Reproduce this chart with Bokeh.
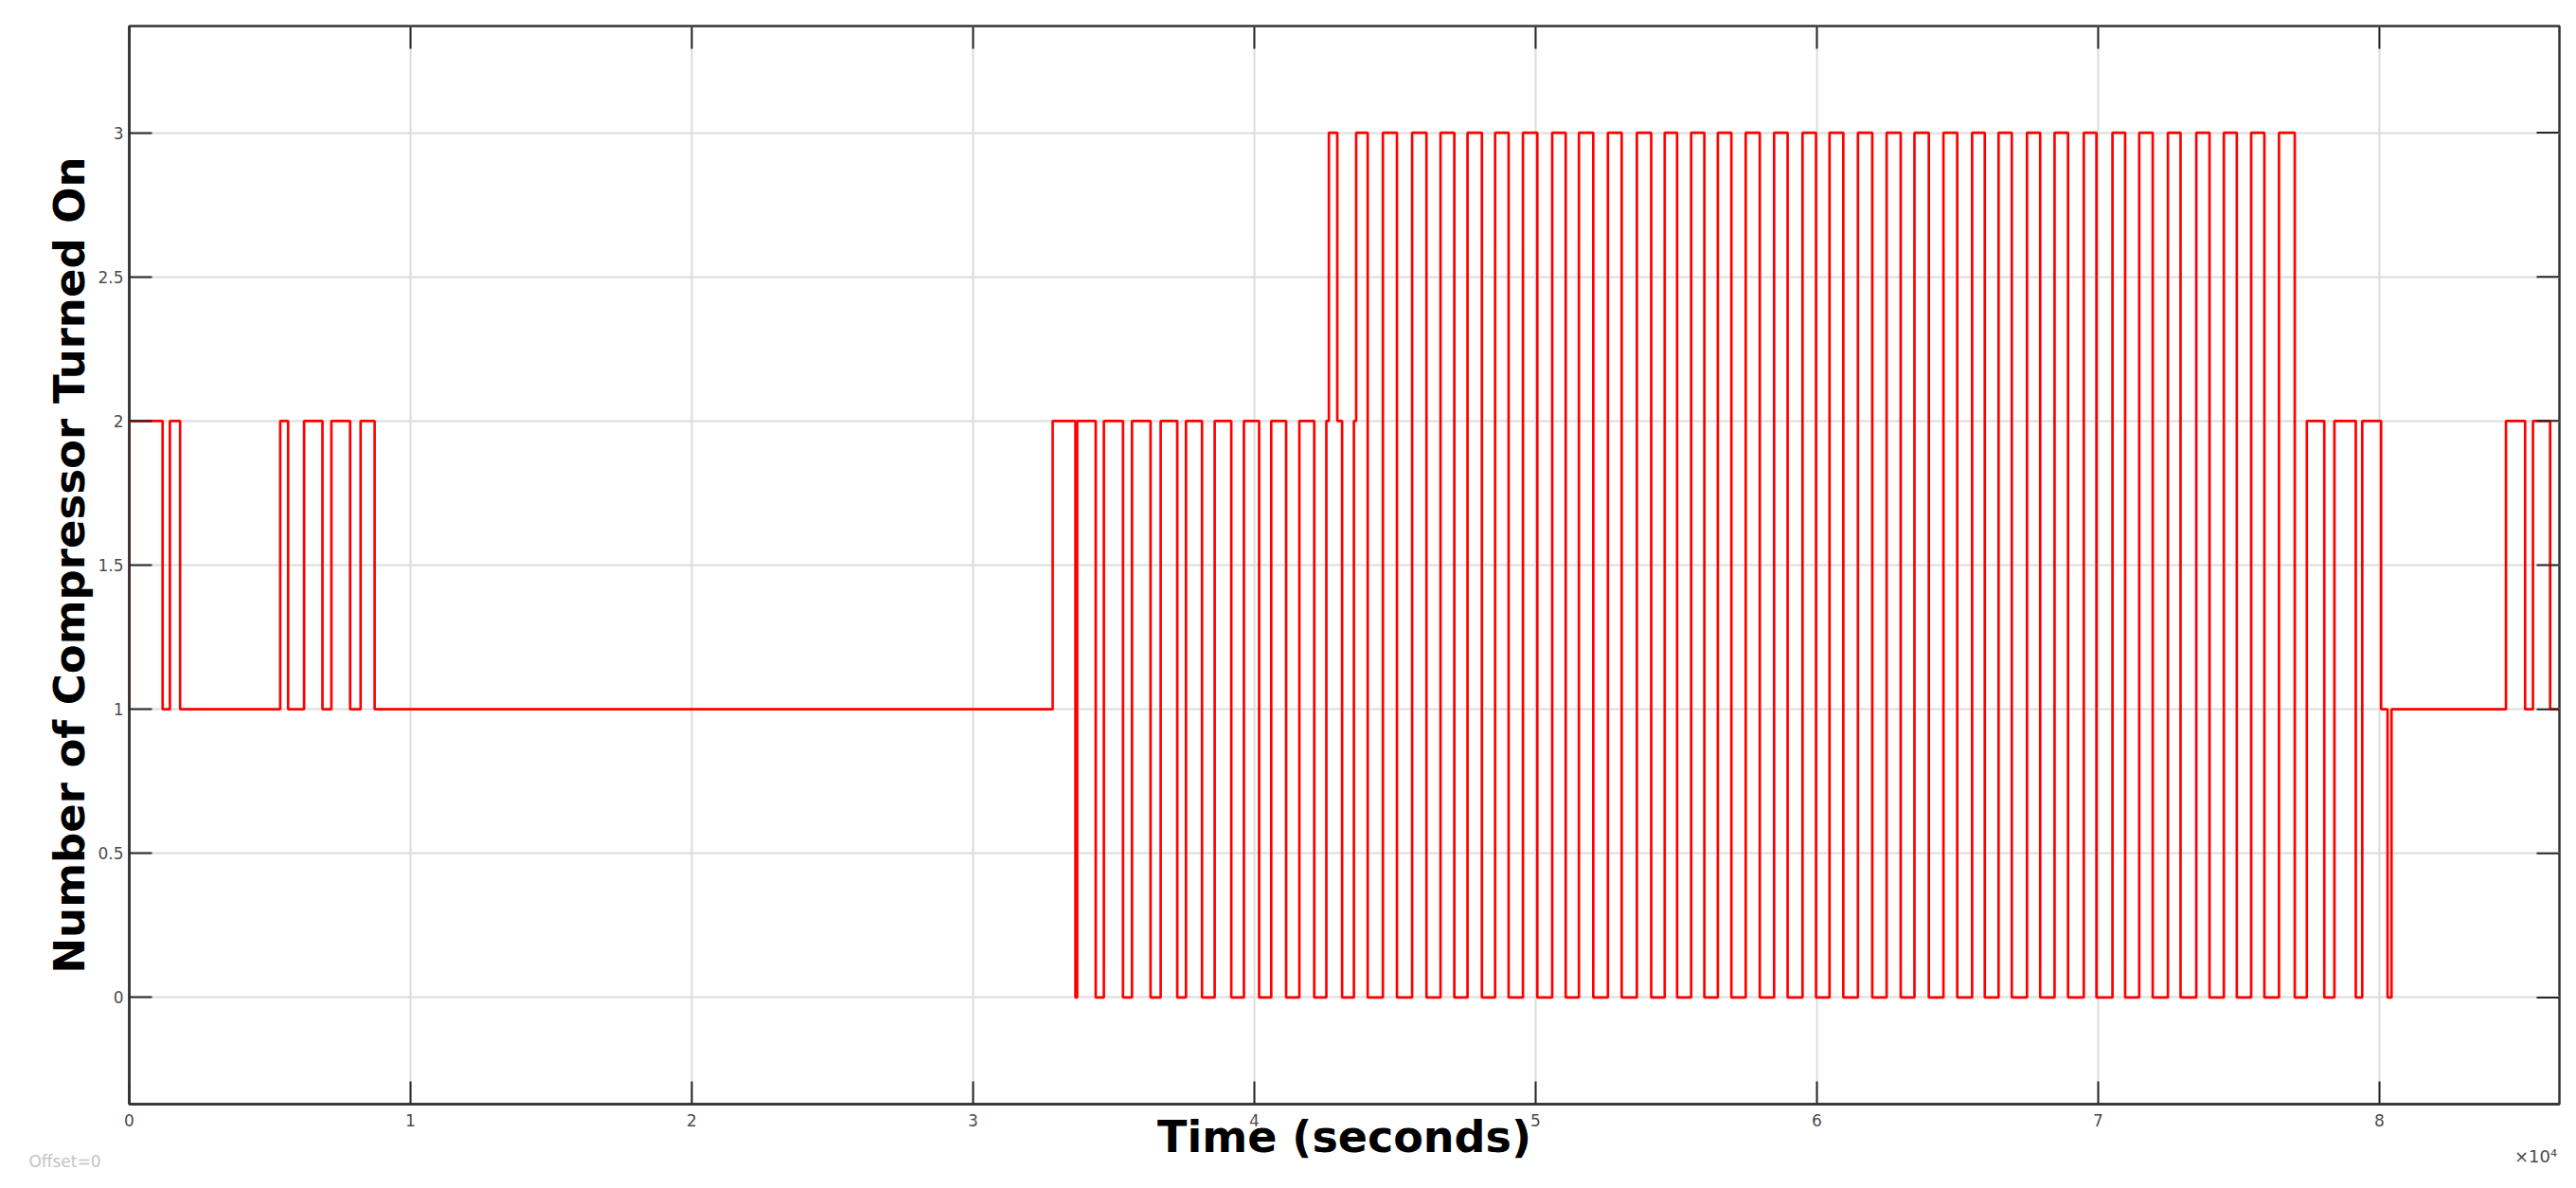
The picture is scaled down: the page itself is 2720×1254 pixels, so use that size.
from bokeh.plotting import figure
from bokeh.models import FixedTicker, Range1d, LinearAxis
from bokeh.embed import file_html
from bokeh.resources import INLINE

# ---- data (time in seconds, number of compressors on) ----
switch_times = [
    0, 0, 1185, 1445, 1808, 5367, 5649, 6215, 6869, 7186, 7852, 8225, 8723,
    32830, 33640, 33700, 34360, 34650, 35330, 35650, 36310, 36670, 37260, 37570,
    38140, 38590, 39180, 39630, 40170, 40600, 41130, 41600, 42130, 42560, 42650,
    42950, 43120, 43540, 43620, 44030, 44570, 45070, 45610, 46120, 46620, 47110,
    47580, 48090, 48560, 49040, 49550, 50060, 50590, 51070, 51540, 52050, 52570,
    53060, 53600, 54110, 54590, 55030, 55530, 56000, 56480, 56960, 57470, 57970,
    58480, 58960, 59490, 59970, 60450, 60940, 61460, 61970, 62480, 62980, 63470,
    63980, 64500, 64990, 65520, 65970, 66460, 66930, 67470, 67940, 68450, 68930,
    69490, 69940, 70510, 70960, 71460, 71940, 72480, 72930, 73490, 73960, 74470,
    74930, 75440, 75910, 76430, 76990, 77420, 78040, 78400, 79160, 79390, 80060,
    80290, 80430, 84500, 85180, 85460, 86070, 86400,
]
compressors_on = [
    1, 2, 1, 2, 1, 2, 1, 2, 1, 2, 1, 2, 1,
    2, 0, 2, 0, 2, 0, 2, 0, 2, 0, 2,
    0, 2, 0, 2, 0, 2, 0, 2, 0, 2, 3,
    2, 0, 2, 3, 0, 3, 0, 3, 0, 3, 0,
    3, 0, 3, 0, 3, 0, 3, 0, 3, 0, 3,
    0, 3, 0, 3, 0, 3, 0, 3, 0, 3, 0,
    3, 0, 3, 0, 3, 0, 3, 0, 3, 0, 3,
    0, 3, 0, 3, 0, 3, 0, 3, 0, 3, 0,
    3, 0, 3, 0, 3, 0, 3, 0, 3, 0, 3,
    0, 3, 0, 3, 0, 2, 0, 2, 0, 2, 1,
    0, 1, 2, 1, 2, 1, 1,
]

x_tick_values = [0, 10000, 20000, 30000, 40000, 50000, 60000, 70000, 80000]
x_tick_labels = ["0", "1", "2", "3", "4", "5", "6", "7", "8"]
y_tick_values = [0, 0.5, 1, 1.5, 2, 2.5, 3]
y_tick_labels = ["0", "0.5", "1", "1.5", "2", "2.5", "3"]
x_label = "Time (seconds)"
y_label = "Number of Compressor Turned On"
x_limits = (0, 86400)
y_limits = (-0.37, 3.37)
offset_text = "Offset=0"
exponent_text = "\u00d710\u2074"

# ---- layout constants (pixels) ----
W, H = 2716, 1254
B_LEFT, B_RIGHT, B_TOP, B_BOTTOM = 136, 14, 27, 89
TICK_LEN = 24
frame_w = W - B_LEFT - B_RIGHT
frame_h = H - B_TOP - B_BOTTOM
px_x = (x_limits[1] - x_limits[0]) / frame_w   # data units per pixel
px_y = (y_limits[1] - y_limits[0]) / frame_h

p = figure(
    width=W, height=H,
    output_backend="svg", toolbar_location=None,
    x_range=Range1d(*x_limits), y_range=Range1d(*y_limits),
    min_border_left=B_LEFT, min_border_right=B_RIGHT,
    min_border_top=B_TOP, min_border_bottom=B_BOTTOM,
    background_fill_color="white", border_fill_color="white",
)
p.outline_line_color = "#333333"
p.outline_line_width = 2.5

# grid
p.xgrid.ticker = FixedTicker(ticks=x_tick_values)
p.ygrid.ticker = FixedTicker(ticks=y_tick_values)
for g in (p.xgrid[0], p.ygrid[0]):
    g.grid_line_color = "#dcdcdc"
    g.grid_line_width = 2

p.step(switch_times, compressors_on, mode="after",
       line_color="#ff0000", line_width=2.7)

tick_color = "#262626"
label_color = "#4d4d4d"

# bottom axis
xa = p.xaxis[0]
xa.ticker = FixedTicker(ticks=x_tick_values)
xa.major_label_overrides = dict(zip(x_tick_values, x_tick_labels))
xa.minor_tick_line_color = None
xa.minor_tick_out = 0
xa.major_tick_in = TICK_LEN
xa.major_tick_out = 0
xa.major_tick_line_color = tick_color
xa.major_tick_line_width = 2
xa.axis_line_color = "#333333"
xa.axis_line_width = 2.5
xa.major_label_text_font = "DejaVu Sans"
xa.major_label_text_font_size = "17px"
xa.major_label_text_color = label_color
xa.major_label_standoff = 10
xa.axis_label = x_label
xa.axis_label_text_font = "DejaVu Sans"
xa.axis_label_text_font_style = "bold"
xa.axis_label_text_font_size = "46px"
xa.axis_label_text_color = "black"
xa.axis_label_standoff = -19

# left axis
ya = p.yaxis[0]
ya.ticker = FixedTicker(ticks=y_tick_values)
ya.major_label_overrides = dict(zip(y_tick_values, y_tick_labels))
ya.minor_tick_line_color = None
ya.minor_tick_out = 0
ya.major_tick_in = TICK_LEN
ya.major_tick_out = 0
ya.major_tick_line_color = tick_color
ya.major_tick_line_width = 2
ya.axis_line_color = "#333333"
ya.axis_line_width = 2.5
ya.major_label_text_font = "DejaVu Sans"
ya.major_label_text_font_size = "17px"
ya.major_label_text_color = label_color
ya.major_label_standoff = 6
ya.axis_label = y_label
ya.axis_label_text_font = "DejaVu Sans"
ya.axis_label_text_font_style = "bold"
ya.axis_label_text_font_size = "45px"
ya.axis_label_text_color = "black"
ya.axis_label_standoff = 0

# inward ticks on the top and right edges of the box
p.segment(x0=x_tick_values, x1=x_tick_values,
          y0=[y_limits[1]] * len(x_tick_values),
          y1=[y_limits[1] - TICK_LEN * px_y] * len(x_tick_values),
          line_color=tick_color, line_width=2)
p.segment(x0=[x_limits[1]] * len(y_tick_values),
          x1=[x_limits[1] - TICK_LEN * px_x] * len(y_tick_values),
          y0=y_tick_values, y1=y_tick_values,
          line_color=tick_color, line_width=2)


# texts under the axis: extra label-only axes with negative standoff (size ~0)
def text_axis(pos, txt, size, color, standoff):
    ax = LinearAxis(ticker=FixedTicker(ticks=[pos]),
                    major_label_overrides={pos: txt},
                    major_label_text_font="DejaVu Sans",
                    major_label_text_font_size=size,
                    major_label_text_color=color,
                    major_label_standoff=standoff,
                    major_tick_line_color=None, major_tick_in=0, major_tick_out=0,
                    minor_tick_line_color=None, minor_tick_in=0, minor_tick_out=0,
                    axis_line_color=None)
    p.add_layout(ax, "below")


# "×10⁴" centred 25 px left of the right edge of the box
text_axis(x_limits[1] - 25 * px_x, exponent_text, "18px", label_color, -20)
# "Offset=0" padded with em spaces so that its visible part sits left of the box
text_axis(x_limits[0], offset_text + "\u2003" * 8, "17px", "#c4c4c4", -18)

open("out.html", "w").write(file_html(p, INLINE))
